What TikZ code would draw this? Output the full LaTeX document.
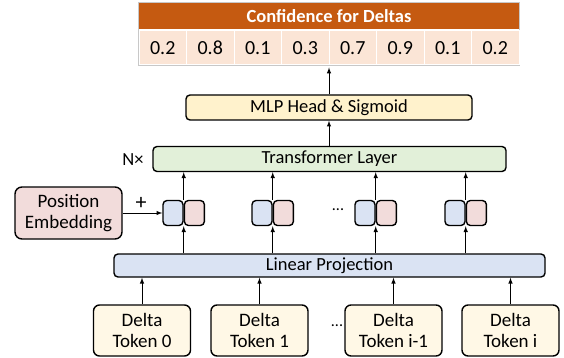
\documentclass[tikz,border=0pt]{standalone}
\usepackage{fontspec}
\setmainfont{Carlito}
\usetikzlibrary{positioning}

\definecolor{confhead}{HTML}{C55A11}
\definecolor{confcell}{HTML}{FBE5D6}
\definecolor{confedge}{HTML}{C8C8C8}
\definecolor{mlpfill}{HTML}{FFF2CC}
\definecolor{trffill}{HTML}{E2F0D9}
\definecolor{linfill}{HTML}{DAE3F3}
\definecolor{posfill}{HTML}{F2DCDB}
\definecolor{tokfill}{HTML}{FFF8E6}

\begin{document}
\begin{tikzpicture}[x=1pt,y=-1pt,>=latex,
   box/.style={draw,line width=1.4pt,rounded corners=4pt,inner sep=0pt,
     font=\fontsize{18.5}{21}\selectfont},
   layer/.style={box,minimum height=25pt},
   half/.style={box,minimum width=20pt,minimum height=25pt},
   token/.style={box,fill=tokfill,rounded corners=6pt,minimum width=97pt,
     minimum height=51pt,align=center,font=\fontsize{19}{21.5}\selectfont},
   cell/.style={draw=white,line width=1pt,fill=confcell,minimum width=47.5pt,
     minimum height=34pt,inner sep=0pt,font=\fontsize{20}{22}\selectfont},
   flow/.style={->,line width=1pt}]
   \useasboundingbox (0,0) rectangle (564,358);

   % confidence table
   \begin{scope}
    \draw[confedge,line width=1pt] (138.5,2.5) rectangle (519.5,65.5);
    \node[fill=confhead,minimum width=380pt,minimum height=26pt,inner sep=0pt,
      text=white,font=\bfseries\fontsize{18.5}{20}\selectfont] (conf) at (329,16) {Confidence for Deltas};
    \foreach \v [count=\i] in {0.2,0.8,0.1,0.3,0.7,0.9,0.1,0.2}
      \node[cell] (c\i) at (139+47.5*\i-23.75,48) {\v};
   \end{scope}

   % heads
   \node[layer,fill=mlpfill,minimum width=286pt] (mlp) at (329,107.5) {MLP Head \& Sigmoid};
   \node[layer,fill=trffill,minimum width=353pt] (trf) at (329.5,159) {Transformer Layer};
   \node[font=\fontsize{18.5}{21}\selectfont] (nx) at (133,160) {N×};
   \coordinate (tab) at (329,67.5);
   \draw[flow] (mlp.north) -- (tab);
   \draw[flow] (trf.north -| mlp.north) -- (mlp.south);

   % embedded tokens
   \foreach \x [count=\i] in {183,272,375,465} {
     \node[half,fill=linfill] (b\i) at (\x-10,213) {};
     \node[half,fill=posfill,right=0pt of b\i] (r\i) {};
   }
   \node[font=\fontsize{16}{18}\selectfont] (dots) at (338,210) {...};

   \node[box,fill=posfill,rounded corners=7pt,minimum width=107pt,minimum height=52pt,
     align=center,font=\fontsize{19}{21.5}\selectfont] (pos) at (68.5,213) {Position\\Embedding};
   \draw[flow] (pos.east) -- (b1.west);
   \node[font=\fontsize{22}{22}\selectfont] (plus) at (141,203.5) {+};

   \node[layer,fill=linfill,minimum width=431pt,minimum height=23pt] (lin) at (329.5,265.5) {Linear Projection};

   \foreach \i in {1,...,4} {
     \draw[flow] (b\i.north east) -- (b\i.north east |- trf.south);
     \draw[flow] (b\i.south east |- lin.north) -- (b\i.south east);
   }

   % delta tokens
   \node[token] (t0) at (142,330.5) {Delta\\Token 0};
   \node[token] (t1) at (259.5,330.5) {Delta\\Token 1};
   \node[token] (t2) at (393.5,330.5) {Delta\\Token i-1};
   \node[token] (t3) at (510.5,330.5) {Delta\\Token i};
   \node[font=\fontsize{16}{18}\selectfont] (tdots) at (337,326) {...};
   \foreach \i in {0,...,3}
     \draw[flow] (t\i.north) -- (t\i.north |- lin.south);
  \end{tikzpicture}
\end{document}
